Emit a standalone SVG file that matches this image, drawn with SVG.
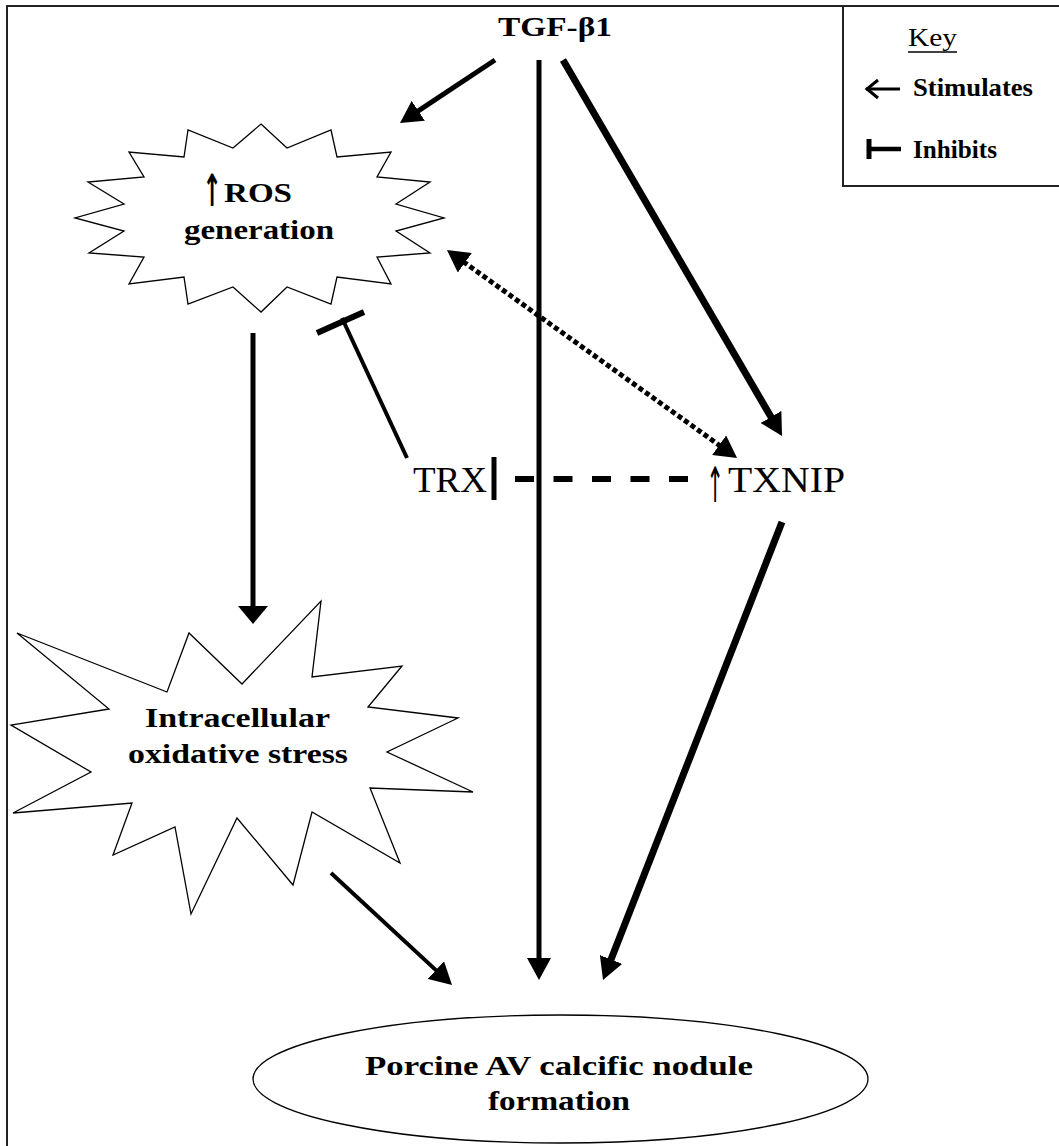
<svg xmlns="http://www.w3.org/2000/svg" width="1059" height="1146" viewBox="0 0 1059 1146">
<style>
.frame{fill:none;stroke:#222;stroke-width:2}
.shape{fill:#fff;stroke:#000;stroke-width:1.3;stroke-linejoin:miter}
.lbl{font-family:"Liberation Serif","Times New Roman",serif;font-weight:bold;font-size:27px;fill:#000}
.big{font-family:"Liberation Serif","Times New Roman",serif;font-weight:normal;font-size:35px;fill:#000}
.key{font-family:"Liberation Serif","Times New Roman",serif;font-size:25px;fill:#000}
.up{font-family:"DejaVu Sans",sans-serif;text-anchor:middle;fill:#000}
.ln{fill:none;stroke:#000;stroke-linecap:butt}
</style>
<defs>
<marker id="ah" viewBox="0 0 22 24" refX="10" refY="12" markerWidth="22" markerHeight="24" markerUnits="userSpaceOnUse" orient="auto-start-reverse">
<path d="M0,0 L22,12 L0,24 z" fill="#000"/>
</marker>
<marker id="ahw" viewBox="0 0 18 30" refX="8" refY="15" markerWidth="18" markerHeight="30" markerUnits="userSpaceOnUse" orient="auto">
<path d="M0,0 L18,15 L0,30 z" fill="#000"/>
</marker>
</defs>

<rect class="frame" x="7" y="6" width="1062" height="1150"/>

<g id="key">
<polyline class="frame" points="843,6 843,186 1062,186"/>
<text class="key" x="908" y="46" textLength="49" lengthAdjust="spacingAndGlyphs">Key</text>
<line x1="908" y1="52" x2="957" y2="52" stroke="#000" stroke-width="1.5"/>
<line x1="866" y1="89" x2="900" y2="89" stroke="#000" stroke-width="3"/>
<polyline points="878,80 867,89 878,98" fill="none" stroke="#000" stroke-width="3"/>
<text class="key" x="913" y="96" font-weight="bold" textLength="120" lengthAdjust="spacingAndGlyphs">Stimulates</text>
<line x1="869" y1="149" x2="901" y2="149" stroke="#000" stroke-width="4.5"/>
<line x1="869" y1="139" x2="869" y2="159" stroke="#000" stroke-width="5"/>
<text class="key" x="913" y="158" font-weight="bold" textLength="84" lengthAdjust="spacingAndGlyphs">Inhibits</text>
</g>

<g id="tgf">
<text class="lbl" x="498" y="36" textLength="114" lengthAdjust="spacingAndGlyphs">TGF-β1</text>
</g>

<g id="ros">
<polygon class="shape" points="261,124 287,148 331,130 337,157 391,152 377,177 430,182 396,204 444,218 396,231 430,253 377,257 391,284 337,277 331,304 287,287 261,312 233,287 188,304 184,277 129,284 144,257 89,253 124,231 75,218 124,204 88,182 144,177 129,152 184,157 188,130 233,148"/>
<text class="up" transform="translate(212,206) scale(0.85,1.65)" font-size="27" font-weight="bold">↑</text>
<text class="lbl" x="224" y="202" textLength="68" lengthAdjust="spacingAndGlyphs">ROS</text>
<text class="lbl" x="184" y="239" textLength="150" lengthAdjust="spacingAndGlyphs">generation</text>
</g>

<g id="stress">
<polygon class="shape" points="321,601 312,677 402,666 368,707 458,718 387,752 473,792 370,788 400,863 312,812 293,885 237,818 191,914 175,827 113,855 132,803 13,813 91,772 11,725 109,709 17,633 167,692 189,633 242,684"/>
<text class="lbl" x="145" y="727" textLength="185" lengthAdjust="spacingAndGlyphs">Intracellular</text>
<text class="lbl" x="128" y="763" textLength="220" lengthAdjust="spacingAndGlyphs">oxidative stress</text>
</g>

<g id="trx">
<text class="big" x="413" y="492" textLength="74" lengthAdjust="spacingAndGlyphs">TRX</text>
</g>

<g id="txnip">
<text class="up" transform="translate(715,502) scale(0.75,1.75)" font-size="28">↑</text>
<text class="big" x="728" y="492" textLength="117" lengthAdjust="spacingAndGlyphs">TXNIP</text>
</g>

<g id="nodule">
<ellipse class="shape" cx="560.5" cy="1079" rx="307.5" ry="64"/>
<text class="lbl" x="365" y="1075" textLength="388" lengthAdjust="spacingAndGlyphs">Porcine AV calcific nodule</text>
<text class="lbl" x="488" y="1110" textLength="142" lengthAdjust="spacingAndGlyphs">formation</text>
</g>

<g id="connectors">
<line class="ln" x1="495" y1="60" x2="410" y2="116.4" stroke-width="5" marker-end="url(#ah)"/>
<line class="ln" x1="539" y1="60" x2="539" y2="968" stroke-width="5" marker-end="url(#ah)"/>
<line class="ln" x1="563" y1="60" x2="776" y2="425.6" stroke-width="7" marker-end="url(#ah)"/>
<line class="ln" x1="253" y1="333" x2="253" y2="614" stroke-width="5" marker-end="url(#ahw)"/>
<line class="ln" x1="331" y1="873" x2="443.2" y2="976.9" stroke-width="4" marker-end="url(#ah)"/>
<line class="ln" x1="782" y1="522" x2="607.4" y2="968.8" stroke-width="7" marker-end="url(#ah)"/>
<line class="ln" x1="456.7" y1="257" x2="727.3" y2="451" stroke-width="5" stroke-dasharray="5 3" marker-start="url(#ah)" marker-end="url(#ah)"/>
<line class="ln" x1="407" y1="458" x2="342" y2="318" stroke-width="4"/>
<line class="ln" x1="317" y1="333" x2="364" y2="312" stroke-width="6" stroke-linecap="round"/>
<line class="ln" x1="515" y1="479" x2="690" y2="479" stroke-width="6" stroke-dasharray="19 19.5"/>
<line class="ln" x1="494" y1="457" x2="494" y2="500" stroke-width="5"/>
</g>
</svg>
